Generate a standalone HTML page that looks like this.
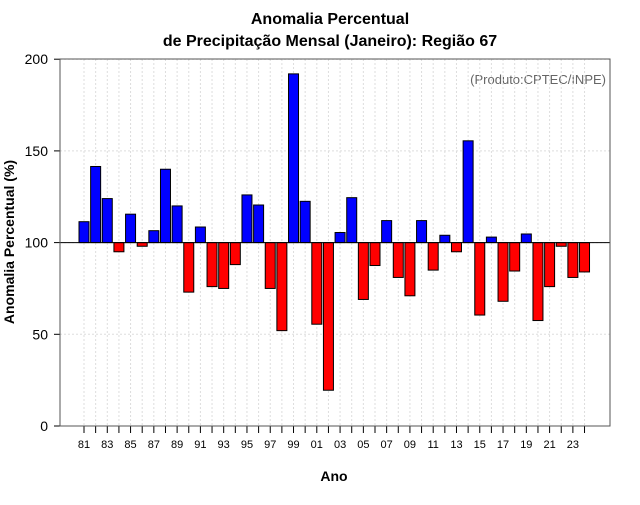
<!DOCTYPE html>
<html><head><meta charset="utf-8"><style>
body{margin:0;background:#fff;font-family:"Liberation Sans",sans-serif}
svg text{font-family:"Liberation Sans",sans-serif}
</style></head><body>
<svg id="c" width="640" height="500" xmlns="http://www.w3.org/2000/svg">
<text x="330" y="24" text-anchor="middle" font-size="16" font-weight="bold">Anomalia Percentual</text>
<text x="330" y="46" text-anchor="middle" font-size="16" font-weight="bold">de Precipitação Mensal (Janeiro): Região 67</text>
<text x="334" y="481" text-anchor="middle" font-size="14" font-weight="bold">Ano</text>
<text transform="translate(14,242) rotate(-90)" text-anchor="middle" font-size="14" font-weight="bold">Anomalia Percentual (%)</text>
<text x="606" y="84" text-anchor="end" font-size="13" fill="#666">(Produto:CPTEC/INPE)</text>
<g id="grid"></g><g id="bars"></g><g id="axes"></g>
</svg>
<script>
const years=[81,82,83,84,85,86,87,88,89,90,91,92,93,94,95,96,97,98,99,0,1,2,3,4,5,6,7,8,9,10,11,12,13,14,15,16,17,18,19,20,21,22,23,24];
const values=[111.4,141.5,124,95,115.5,98,106.5,140,120,73,108.5,76,75,88,126,120.5,75,52,192,122.5,55.5,19.5,105.5,124.5,69,87.5,112,81,71,112,85,104,95,155.5,60.5,103,68,84.5,104.7,57.5,76,98,81,84];
const yTicks=[0,50,100,150,200];
const NS='http://www.w3.org/2000/svg';
const L=60,R=610,T=59,B=426;
const y=v=>426-v*1.834;
const x=i=>84+i*11.64;
function mk(tag,at,parent){const e=document.createElementNS(NS,tag);for(const k in at)e.setAttribute(k,at[k]);document.getElementById(parent).appendChild(e);return e;}
years.forEach((yr,i)=>{
 const g=mk('line',{x1:x(i),x2:x(i),y1:T,y2:B,stroke:'#ddd','stroke-dasharray':'2,2'},'grid');
 
 
});
yTicks.forEach(t=>{
 const g=mk('line',{x1:L,x2:R,y1:y(t),y2:y(t),stroke:'#ddd','stroke-dasharray':'2,2'},'grid');
 
 
 const tk=mk('line',{x1:L-6,x2:L,y1:y(t),y2:y(t),stroke:'#000'},'axes');
 
 
 const tx=mk('text',{x:L-12,y:y(t)+5,'text-anchor':'end','font-size':'14'},'axes');
 tx.textContent=t;
 
 
});
values.forEach((v,i)=>{
 const top=Math.min(y(v),y(100)),h=Math.abs(y(v)-y(100));
 const b=mk('rect',{x:x(i)-5,y:top,width:10,height:h,fill:v>=100?'#0000ff':'#ff0000',stroke:'#000','stroke-width':1},'bars');
 
 
 const tk=mk('line',{x1:x(i),x2:x(i),y1:B,y2:B+7,stroke:'#000'},'axes');
 
 
 if(i%2===0){
  const tx=mk('text',{x:x(i),y:B+22,'text-anchor':'middle','font-size':'11'},'axes');
  tx.textContent=String(years[i]).padStart(2,'0');
  
  
 }
});
const ref=mk('line',{x1:L,x2:R,y1:y(100),y2:y(100),stroke:'#000'},'axes');


const fr=mk('rect',{x:L,y:T,width:R-L,height:B-T,fill:'none',stroke:'#555'},'axes');


</script>
</body></html>
